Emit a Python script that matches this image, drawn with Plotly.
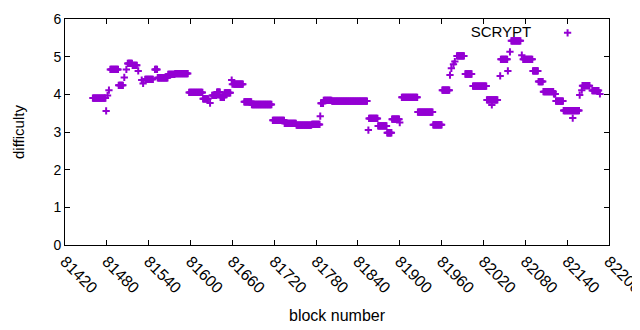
import plotly.graph_objects as go

# Runs of constant difficulty (block ranges, inclusive)
seg_start = [81460, 81485, 81497, 81510, 81517, 81535, 81549, 81553, 81568, 81578,
             81598, 81618, 81631, 81638, 81643, 81649, 81662, 81677, 81688, 81718,
             81735, 81752, 81774, 81787, 81791, 81803, 81856, 81869, 81882, 81889,
             81903, 81926, 81948, 81961, 81982, 81994, 82005, 82025, 82045, 82060,
             82077, 82091, 82099, 82106, 82121, 82124, 82135, 82162, 82176]
seg_end = [81478, 81496, 81503, 81516, 81523, 81546, 81552, 81567, 81577, 81596,
           81617, 81625, 81637, 81642, 81648, 81657, 81675, 81687, 81716, 81734,
           81751, 81773, 81785, 81790, 81802, 81853, 81868, 81881, 81888, 81899,
           81925, 81947, 81960, 81971, 81992, 82003, 82024, 82040, 82054, 82073,
           82090, 82098, 82105, 82120, 82123, 82134, 82157, 82172, 82185]
seg_value = [3.90, 4.66, 4.24, 4.82, 4.77, 4.40, 4.66, 4.44, 4.53, 4.55,
             4.05, 3.88, 3.97, 4.06, 3.92, 4.04, 4.27, 3.80, 3.73, 3.31,
             3.23, 3.18, 3.20, 3.76, 3.84, 3.82, 3.36, 3.16, 2.98, 3.34,
             3.92, 3.53, 3.19, 4.11, 5.02, 4.54, 4.22, 3.85, 4.93, 5.42,
             4.93, 4.62, 4.34, 4.07, 4.01, 3.82, 3.57, 4.23, 4.10]

# Isolated blocks
pt_block = [81479, 81481, 81483, 81505, 81508, 81525, 81530, 81532, 81628, 81659,
            81660, 81786, 81855, 81900, 81972, 81974, 81977, 81979, 82032, 82044,
            82055, 82058, 82075, 82148, 82158, 82161, 82187]
pt_value = [3.56, 3.97, 4.11, 4.45, 4.66, 4.62, 4.38, 4.29, 3.77, 4.38,
            4.27, 3.42, 3.05, 3.25, 4.51, 4.69, 4.80, 4.87, 3.72, 4.49,
            4.62, 5.13, 5.04, 3.37, 3.98, 4.11, 4.01]

x_ticks = list(range(81420, 82201, 60))
y_ticks = [0, 1, 2, 3, 4, 5, 6]

blocks, values = [], []
for s, e, v in zip(seg_start, seg_end, seg_value):
    for b in range(s, e + 1):
        blocks.append(b)
        values.append(v)
blocks += pt_block
values += pt_value

PURPLE = "#9400D3"
FONT = "Liberation Sans"

fig = go.Figure()
fig.add_trace(go.Scatter(
    x=blocks, y=values, mode="markers", name="",
    marker=dict(symbol="cross-thin", size=5.2, color=PURPLE,
                line=dict(width=2, color=PURPLE)),
    showlegend=True,
))

axis_common = dict(showline=True, linecolor="black", linewidth=1, mirror="ticks",
                   ticks="inside", ticklen=5, tickcolor="black", showgrid=False,
                   zeroline=False, automargin=False, ticklabeloverflow="allow")

# page body has an 8px default margin; figure sized so plot area lands at
# x 65..609, y 19..245 of the 640x330 window
fig.update_layout(
    width=632, height=322,
    margin=dict(l=57, r=31, t=11, b=85, autoexpand=False),
    paper_bgcolor="white", plot_bgcolor="white",
    font=dict(family=FONT, size=14, color="black"),
    xaxis=dict(range=[81420, 82200.01], tickvals=x_ticks,
               ticktext=[str(t) for t in x_ticks], tickangle=45,
               tickfont=dict(family=FONT, size=16, color="black"), **axis_common),
    yaxis=dict(range=[0, 6], tickvals=y_ticks,
               tickfont=dict(family=FONT, size=14, color="black"), **axis_common),
    legend=dict(title=dict(text="SCRYPT\u00a0\u00a0", side="left",
                           font=dict(family=FONT, size=15, color="black")),
                x=0.97, xanchor="right", y=1.008, yanchor="top",
                bgcolor="rgba(0,0,0,0)", itemwidth=30),
    annotations=[
        dict(text="difficulty", textangle=-90, xref="paper", yref="paper",
             x=(18 - 65) / 544, y=0.5, xanchor="center", yanchor="middle",
             showarrow=False, font=dict(family=FONT, size=15, color="black")),
        dict(text="block number", xref="paper", yref="paper",
             x=0.5, y=(245 - 315) / 226, xanchor="center", yanchor="middle",
             showarrow=False, font=dict(family=FONT, size=16, color="black")),
    ],
)

fig.write_html("out.html")
